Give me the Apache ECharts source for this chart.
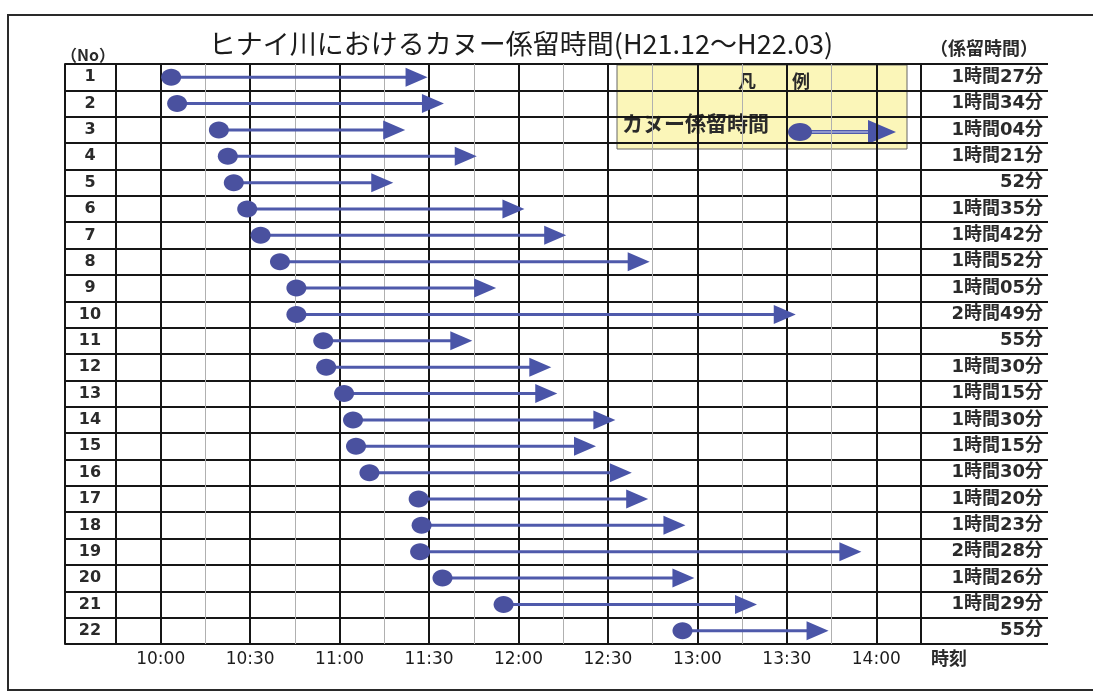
<!DOCTYPE html>
<html>
<head>
<meta charset="utf-8">
<script src="https://cdn.jsdelivr.net/npm/echarts@6/dist/echarts.min.js"></script>
<style>
html,body{margin:0;padding:0;background:#fff;}
#chart{width:1093px;height:693px;}
</style>
</head>
<body>
<div id="chart"></div>
<script>
// ---- data ----
const titleText = 'ヒナイ川におけるカヌー係留時間(H21.12～H22.03)';
const rowNumbers = ['1','2','3','4','5','6','7','8','9','10','11','12','13','14','15','16','17','18','19','20','21','22'];
// arrival (circle) and departure (arrow tip), minutes since midnight
const startMinutes = [603.5, 605.5, 619.5, 622.5, 624.5, 629, 633.5, 640, 645.5, 645.5, 654.5, 655.5, 661.5, 664.5, 665.5, 670, 686.5, 687.5, 687, 694.5, 715, 775];
const endMinutes   = [689.5, 695, 682, 706, 678, 722, 736, 764, 712.5, 813, 704.5, 731, 733, 752.5, 746, 758, 763.5, 776, 835, 779, 800, 824];
const durationLabels = ['1時間27分','1時間34分','1時間04分','1時間21分','52分','1時間35分','1時間42分','1時間52分','1時間05分','2時間49分','55分','1時間30分','1時間15分','1時間30分','1時間15分','1時間30分','1時間20分','1時間23分','2時間28分','1時間26分','1時間29分','55分'];
const tickLabels = ['10:00','10:30','11:00','11:30','12:00','12:30','13:00','13:30','14:00'];
const axisStartMin = 585;   // 09:45
const axisEndMin = 855;     // 14:15
const slotStep = 15;

// ---- helpers ----
function hhmm(m) {
  const h = Math.floor(m / 60), mm = m % 60;
  return (h < 10 ? '0' : '') + h + ':' + (mm < 10 ? '0' : '') + mm;
}
const timeSlots = [];
for (let m = axisStartMin; m <= axisEndMin; m += slotStep) timeSlots.push(hhmm(m));
const lastSlot = timeSlots.length - 1;

const CJK = '"Noto Sans CJK JP", "Noto Sans", sans-serif';
const NUMF = '"DejaVu Sans", "Noto Sans CJK JP", sans-serif';
const INK = '#1c1c1c';
const GRID_TOP = 64, GRID_BOTTOM = 693 - 644;
const thick = { color: '#161616', width: 2 };

const chart = echarts.init(document.getElementById('chart'), null, { renderer: 'canvas' });

const option = {
  backgroundColor: '#ffffff',
  animation: false,
  title: {
    text: titleText,
    left: 516,
    top: 25,
    textAlign: 'center',
    textStyle: { fontFamily: CJK, fontSize: 27, fontWeight: 'normal', color: INK }
  },
  grid: [
    { left: 116, right: 1093 - 921, top: GRID_TOP, bottom: GRID_BOTTOM },
    { left: 65, width: 51, top: GRID_TOP, bottom: GRID_BOTTOM },
    { left: 921, width: 127, top: GRID_TOP, bottom: GRID_BOTTOM }
  ],
  xAxis: [
    {
      type: 'value', gridIndex: 0, min: axisStartMin, max: axisEndMin, interval: slotStep,
      axisLine: { show: false }, axisTick: { show: false }, axisLabel: { show: false },
      splitLine: { show: true, lineStyle: { color: '#b0b0b0', width: 1 } }
    },
    {
      type: 'category', gridIndex: 0, data: timeSlots, boundaryGap: false, position: 'bottom',
      axisLine: { show: false }, axisTick: { show: false },
      axisLabel: {
        interval: (i, v) => tickLabels.indexOf(v) >= 0,
        margin: 7, fontFamily: NUMF, fontSize: 17, color: INK
      },
      splitLine: {
        show: true,
        interval: (i, v) => tickLabels.indexOf(v) >= 0 || i === 0 || i === lastSlot,
        lineStyle: thick
      }
    },
    { type: 'value', gridIndex: 1, min: 0, max: 1, show: false },
    { type: 'value', gridIndex: 2, min: 0, max: 1, show: false }
  ],
  yAxis: [
    {
      type: 'category', gridIndex: 0, data: rowNumbers, inverse: true,
      axisLine: { show: false }, axisTick: { show: false }, axisLabel: { show: false },
      splitLine: { show: true, lineStyle: thick }
    },
    {
      type: 'category', gridIndex: 1, data: rowNumbers, inverse: true, position: 'left',
      axisLine: { show: true, lineStyle: thick }, axisTick: { show: false },
      axisLabel: { inside: true, interval: 0, align: 'center', margin: 25, fontFamily: NUMF, fontSize: 16, fontWeight: 'bold', color: '#2a2a2a' },
      splitLine: { show: true, lineStyle: thick }
    },
    {
      type: 'category', gridIndex: 2, data: durationLabels, inverse: true, position: 'right',
      axisLine: { show: true, lineStyle: thick }, axisTick: { show: false },
      axisLabel: { inside: true, interval: 0, align: 'right', margin: 5, fontFamily: NUMF, fontSize: 18, fontWeight: 'bold', color: '#2a2a2a' },
      splitLine: { show: true, lineStyle: thick }
    }
  ],
  series: [
    {
      type: 'custom',
      name: 'カヌー係留時間',
      xAxisIndex: 0, yAxisIndex: 0,
      data: startMinutes.map((s, i) => [i, s, endMinutes[i]]),
      encode: { x: [1, 2], y: 0 },
      renderItem: function (params, api) {
        const row = api.value(0);
        const p0 = api.coord([api.value(1), row]);
        const p1 = api.coord([api.value(2), row]);
        const headLen = 22, headHalf = 9.5;
        return {
          type: 'group',
          children: [
            { type: 'line', shape: { x1: p0[0], y1: p0[1], x2: p1[0] - headLen + 2, y2: p1[1] },
              style: { stroke: '#4f5aab', lineWidth: 3 } },
            { type: 'polygon', shape: { points: [[p1[0] - headLen, p1[1] - headHalf], [p1[0], p1[1]], [p1[0] - headLen, p1[1] + headHalf]] },
              style: { fill: '#4a55a8' } },
            { type: 'ellipse', shape: { cx: p0[0], cy: p0[1], rx: 10, ry: 8.5 },
              style: { fill: '#4a519f' } }
          ]
        };
      }
    }
  ],
  graphic: [
    { type: 'rect', z: 0, silent: true, shape: { x: 8, y: 15, width: 1100, height: 675 },
      style: { fill: 'none', stroke: '#2a2a2a', lineWidth: 2 } },
    { type: 'text', z: 50, x: 88, y: 55,
      style: { text: '（No）', fontFamily: CJK, fontSize: 16, fontWeight: 'bold', fill: '#2a2a2a', align: 'center', verticalAlign: 'middle' } },
    { type: 'text', z: 50, x: 984, y: 48,
      style: { text: '（係留時間）', fontFamily: CJK, fontSize: 18, fontWeight: 'bold', fill: '#2a2a2a', align: 'center', verticalAlign: 'middle' } },
    { type: 'text', z: 50, x: 931, y: 658,
      style: { text: '時刻', fontFamily: CJK, fontSize: 18, fontWeight: 'bold', fill: '#2a2a2a', align: 'left', verticalAlign: 'middle' } },
    {
      type: 'group', z: 100,
      children: [
        { type: 'rect', shape: { x: 617, y: 65, width: 290, height: 84 },
          style: { fill: '#fbf6b9', stroke: '#666', lineWidth: 1 } },
        { type: 'text', x: 774, y: 81,
          style: { text: '凡　　例', fontFamily: CJK, fontSize: 18, fontWeight: 'bold', fill: '#2a2a2a', align: 'center', verticalAlign: 'middle' } },
        { type: 'text', x: 622, y: 123,
          style: { text: 'カヌー係留時間', fontFamily: CJK, fontSize: 21, fontWeight: 'bold', fill: '#2a2a2a', align: 'left', verticalAlign: 'middle' } },
        { type: 'line', shape: { x1: 800, y1: 132, x2: 870, y2: 132 },
          style: { stroke: '#4f5aab', lineWidth: 4 } },
        { type: 'line', shape: { x1: 810, y1: 132, x2: 868, y2: 132 },
          style: { stroke: '#cfd3f0', lineWidth: 1 } },
        { type: 'polygon', shape: { points: [[868, 120], [896, 132], [868, 144]] },
          style: { fill: '#4a55a8' } },
        { type: 'ellipse', shape: { cx: 800, cy: 132, rx: 12, ry: 9 },
          style: { fill: '#4a519f' } }
      ]
    }
  ]
};

chart.setOption(option);
</script>
</body>
</html>
